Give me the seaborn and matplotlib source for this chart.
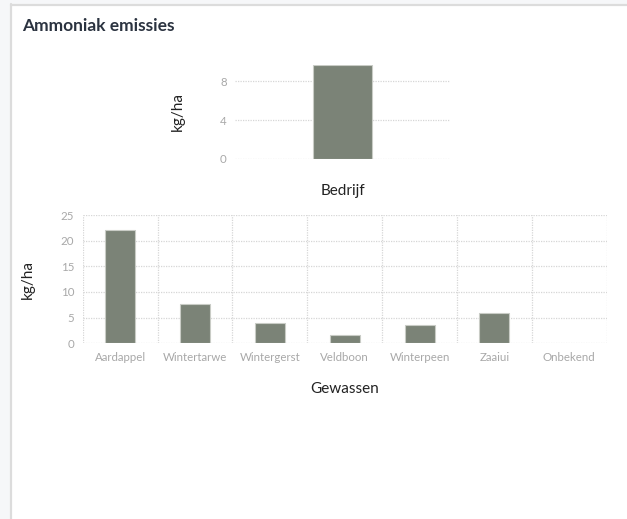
import matplotlib
matplotlib.use("Agg")
import matplotlib.pyplot as plt
import seaborn as sns
import pandas as pd
from matplotlib.patches import Rectangle
from matplotlib.lines import Line2D

# data
bedrijf_labels = ["Bedrijf"]
bedrijf_values = [9.7]
gewassen = ["Aardappel", "Wintertarwe", "Wintergerst", "Veldboon",
            "Winterpeen", "Zaaiui", "Onbekend"]
gewassen_values = [22.0, 7.6, 3.9, 1.6, 3.6, 5.9, 0.0]
top_ticks = [0, 4, 8]
bottom_ticks = [0, 5, 10, 15, 20, 25]

BAR = "#7b8377"
TICK = "#a8a8a8"
GRID = "#d6d6d6"

sns.set_theme(style="white")
plt.rcParams["font.family"] = ["Lato", "DejaVu Sans"]

W, H = 627, 519
fig = plt.figure(figsize=(W / 100, H / 100), dpi=100)
fig.patch.set_facecolor("white")

# page background + card border
fig.add_artist(Rectangle((0, 0), 10 / W, 1, transform=fig.transFigure,
                         facecolor="#f6f7f9", edgecolor="none", zorder=0))
fig.add_artist(Rectangle((0, 1 - 4 / H), 1, 4 / H, transform=fig.transFigure,
                         facecolor="#f6f7f9", edgecolor="none", zorder=0))
fig.add_artist(Line2D([10.5 / W, 10.5 / W], [0, 1 - 4 / H], transform=fig.transFigure,
                      color="#dcdcdc", lw=1.6))
fig.add_artist(Line2D([10.5 / W, 1], [1 - 4.5 / H, 1 - 4.5 / H], transform=fig.transFigure,
                      color="#dcdcdc", lw=1.6))

fig.text(22 / W, 1 - 26 / H, "Ammoniak emissies", fontsize=12.5, fontweight="bold",
         color="#2b3340", va="center", ha="left")


def style_axes(ax):
    for s in ax.spines.values():
        s.set_visible(False)
    ax.tick_params(axis="both", length=0, labelsize=8.3, colors=TICK, pad=6)
    ax.set_facecolor("none")


def hide_empty(ax):
    for p in ax.patches:
        if p.get_height() == 0:
            p.set_visible(False)


# top chart: Bedrijf
df_top = pd.DataFrame({"cat": bedrijf_labels, "val": bedrijf_values})
ax1 = fig.add_axes([235 / W, 1 - 158.7 / H, 215 / W, 93.7 / H])
sns.barplot(data=df_top, x="cat", y="val", color=BAR, width=0.275,
            edgecolor="#c9ccc6", linewidth=0.8, saturation=1, ax=ax1)
ax1.set_ylim(0, 9.7)
ax1.set_yticks(top_ticks)
ax1.yaxis.grid(True, linestyle=(0, (1, 1)), color=GRID, lw=0.9)
ax1.set_axisbelow(True)
style_axes(ax1)
ax1.set_xticklabels([])
ax1.set_xlabel("Bedrijf", fontsize=11, color="#222222", labelpad=12)
ax1.set_ylabel("kg/ha", fontsize=11, color="#222222", labelpad=25)

# bottom chart: Gewassen
df_bot = pd.DataFrame({"gewas": gewassen, "val": gewassen_values})
ax2 = fig.add_axes([82.7 / W, 1 - 343.3 / H, 524 / W, 128.3 / H])
sns.barplot(data=df_bot, x="gewas", y="val", color=BAR, width=0.4,
            edgecolor="#c9ccc6", linewidth=0.8, saturation=1, ax=ax2)
hide_empty(ax2)
ax2.set_ylim(0, 25)
ax2.set_yticks(bottom_ticks)
ax2.set_xlim(-0.5, len(gewassen) - 0.5)
ax2.yaxis.grid(True, linestyle=(0, (1, 1)), color=GRID, lw=0.9)
for b in range(len(gewassen) + 1):
    ax2.axvline(b - 0.5, linestyle=(0, (1, 1)), color=GRID, lw=0.9, zorder=0)
ax2.set_axisbelow(True)
style_axes(ax2)
ax2.set_xlabel("Gewassen", fontsize=11, color="#222222", labelpad=14)
ax2.set_ylabel("kg/ha", fontsize=11, color="#222222", labelpad=19)

fig.savefig("out.png", dpi=100)
